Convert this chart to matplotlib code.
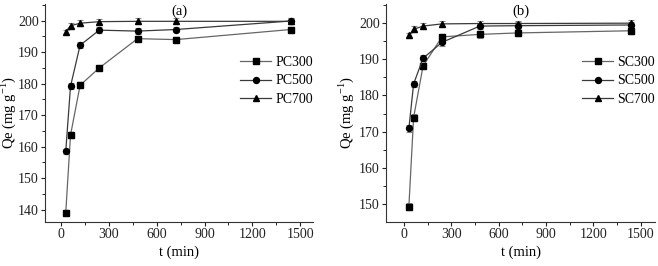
import matplotlib
matplotlib.use("Agg")
import matplotlib.pyplot as plt
from matplotlib.ticker import MultipleLocator
from matplotlib.lines import Line2D

plt.rcParams['font.family'] = ['Liberation Serif', 'DejaVu Serif']
plt.rcParams['font.size'] = 10
plt.rcParams['mathtext.fontset'] = 'custom'
plt.rcParams['mathtext.rm'] = 'Liberation Serif'

t = [30, 60, 120, 240, 480, 720, 1440]

pc_labels = ["PC300", "PC500", "PC700"]
pc300 = [139.0, 163.7, 179.5, 185.0, 194.3, 194.0, 197.2]
pc500 = [158.5, 179.2, 192.2, 197.0, 196.7, 197.2, 199.9]
pc700 = [196.5, 198.4, 199.2, 199.7, 199.8, 199.8, 199.8]
pc300_err = [0.8, 1.0, 0.9, 0.7, 0.9, 0.9, 0.9]
pc500_err = [0.8, 0.9, 0.9, 0.9, 0.9, 0.9, 0.9]
pc700_err = [0.7, 0.8, 1.0, 0.9, 0.9, 0.9, 0.9]

sc_labels = ["SC300", "SC500", "SC700"]
sc300 = [149.3, 173.9, 188.2, 196.2, 196.9, 197.3, 197.9]
sc500 = [170.9, 183.2, 190.3, 194.7, 199.2, 199.3, 199.5]
sc700 = [196.7, 198.3, 199.2, 199.8, 199.9, 199.9, 200.0]
sc300_err = [0.9, 0.9, 0.9, 0.9, 0.9, 0.9, 0.9]
sc500_err = [0.9, 0.9, 0.9, 0.9, 0.9, 0.9, 0.9]
sc700_err = [0.7, 0.8, 0.8, 0.7, 0.8, 0.8, 0.8]

markers = ['s', 'o', '^']
line_colors = ['#666666', '#3a3a3a', '#3a3a3a']

fig = plt.figure(figsize=(6.58, 2.66), dpi=100)
W, H = 658, 266

def make_ax(l, r, b, t_):
    return fig.add_axes([l / W, 1 - b / H, (r - l) / W, (b - t_) / H])

ax1 = make_ax(45, 313, 221.7, 4)
ax2 = make_ax(386, 655, 221.7, 4)

panels = [
    (ax1, [pc300, pc500, pc700], [pc300_err, pc500_err, pc700_err], pc_labels, "(a)", (136.2, 205.3), (-100, 1580), [140, 150, 160, 170, 180, 190, 200], -0.10),
    (ax2, [sc300, sc500, sc700], [sc300_err, sc500_err, sc700_err], sc_labels, "(b)", (145.1, 205.3), (-115, 1590), [150, 160, 170, 180, 190, 200], -0.112),
]

for ax, series, errs, labels, title, ylim, xlim, yt, ylx in panels:
    handles = []
    for y, e, lab, m, c in zip(series, errs, labels, markers, line_colors):
        ax.errorbar(t, y, yerr=e, fmt='-', marker=m, color=c, mfc='black', mec='black',
                    ms=4.3, lw=0.9, ecolor='#888888', elinewidth=0.8, capsize=2, capthick=0.8)
        handles.append(Line2D([], [], color=c, lw=0.9, marker=m, mfc='black', mec='black', ms=4.3, label=lab))
    ax.set_xlim(*xlim)
    ax.set_ylim(*ylim)
    ax.set_xticks([0, 300, 600, 900, 1200, 1500])
    ax.xaxis.set_minor_locator(MultipleLocator(150))
    ax.set_yticks(yt)
    ax.yaxis.set_minor_locator(MultipleLocator(5))
    ax.spines['top'].set_visible(False)
    ax.spines['right'].set_visible(False)
    for s in ['left', 'bottom']:
        ax.spines[s].set_linewidth(0.8)
        ax.spines[s].set_color('#333333')
    ax.tick_params(which='major', direction='out', length=3, width=0.8, labelsize=10,
                   colors='#222222', pad=1.5)
    ax.tick_params(which='minor', direction='out', length=2, width=0.7, colors='#222222')
    ax.set_xlabel("t (min)", fontsize=10.5, labelpad=3)
    ax.set_ylabel(r"Qe (mg g$^{-1}$)", fontsize=10.5)
    ax.yaxis.set_label_coords(ylx, 0.5)
    ax.set_title(title, fontsize=10.5, pad=-8, y=1.0)
    ax.legend(handles=handles, loc='upper right', bbox_to_anchor=(1.03, 0.80), frameon=False,
              fontsize=10, handlelength=2.2, handletextpad=0.3, labelspacing=0.4,
              borderaxespad=0.2)

fig.savefig("out.png", dpi=100)
